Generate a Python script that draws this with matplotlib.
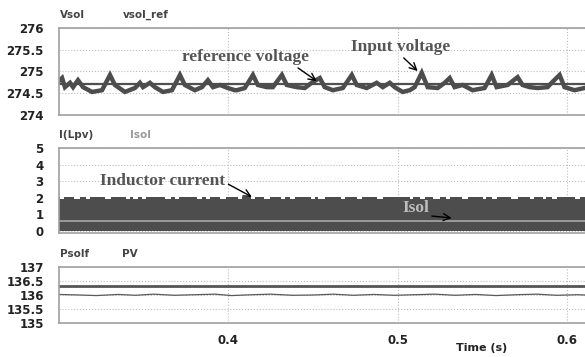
import matplotlib
matplotlib.use("Agg")
import matplotlib.pyplot as plt

# ---- data ----
# time axis (s)
x_ticks = [0.4, 0.5, 0.6]
x_range = (0.3, 0.6106)

# panel 1: PV voltage and its reference
vsol_t = [0.2994, 0.3018, 0.3035, 0.3065, 0.3083, 0.3112, 0.3142, 0.3195, 0.3254,
          0.3301, 0.3330, 0.3389, 0.3448, 0.3478, 0.3496, 0.3537, 0.3566, 0.3614,
          0.3667, 0.3714, 0.3743, 0.3802, 0.3844, 0.3879, 0.3909, 0.3950, 0.3997,
          0.4038, 0.4050, 0.4097, 0.4145, 0.4174, 0.4227, 0.4263, 0.4316, 0.4345,
          0.4404, 0.4451, 0.4499, 0.4540, 0.4569, 0.4617, 0.4676, 0.4729, 0.4758,
          0.4817, 0.4876, 0.4912, 0.4953, 0.4982, 0.5029, 0.5071, 0.5100, 0.5142,
          0.5177, 0.5236, 0.5277, 0.5307, 0.5336, 0.5383, 0.5442, 0.5513, 0.5555,
          0.5584, 0.5649, 0.5708, 0.5737, 0.5779, 0.5826, 0.5885, 0.5914, 0.5956,
          0.5985, 0.6044, 0.6103]
vsol_v = [274.76, 274.85, 274.64, 274.74, 274.64, 274.80, 274.64, 274.53, 274.57,
          274.92, 274.69, 274.53, 274.62, 274.74, 274.64, 274.74, 274.64, 274.53,
          274.57, 274.92, 274.69, 274.57, 274.64, 274.80, 274.64, 274.69, 274.62,
          274.57, 274.57, 274.62, 274.92, 274.69, 274.64, 274.64, 274.92, 274.69,
          274.64, 274.62, 274.76, 274.85, 274.64, 274.57, 274.62, 274.92, 274.69,
          274.62, 274.74, 274.64, 274.74, 274.64, 274.53, 274.57, 274.64, 274.97,
          274.64, 274.62, 274.74, 274.85, 274.64, 274.69, 274.57, 274.62, 274.92,
          274.64, 274.69, 274.87, 274.69, 274.64, 274.62, 274.64, 274.76, 274.92,
          274.64, 274.57, 274.62]
vsol_ref = 274.72
v_ticks = [274, 274.5, 275, 275.5, 276]
v_labels = ["274", "274.5", "275", "275.5", "276"]

# panel 2: inductor current band and Isol
il_top = 2.05
il_bottom = 0.0
il_notch_t = [0.3018, 0.3106, 0.3171, 0.3289, 0.3407, 0.3454, 0.3501, 0.3643, 0.3696,
              0.3832, 0.3879, 0.3968, 0.4068, 0.4145, 0.4227, 0.4322, 0.4381, 0.4499,
              0.4552, 0.4676, 0.4776, 0.4894, 0.5083, 0.5147, 0.5230, 0.5295, 0.5395,
              0.5513, 0.5572, 0.5690, 0.5791, 0.5867, 0.5926, 0.6062]
il_notch_w = [0.0020, 0.0035, 0.0025, 0.0040, 0.0020, 0.0030, 0.0020, 0.0035, 0.0025,
              0.0030, 0.0020, 0.0040, 0.0025, 0.0020, 0.0035, 0.0025, 0.0030, 0.0020,
              0.0040, 0.0025, 0.0030, 0.0035, 0.0020, 0.0030, 0.0040, 0.0025, 0.0035,
              0.0020, 0.0030, 0.0040, 0.0025, 0.0020, 0.0035, 0.0030]
il_notch_depth = 0.11
isol = 0.58
i_ticks = [0, 1, 2, 3, 4, 5]

# panel 3: power
psolf = 136.33
pv_t = [0.300, 0.312, 0.322, 0.335, 0.345, 0.356, 0.368, 0.380, 0.392, 0.402,
        0.414, 0.425, 0.438, 0.450, 0.462, 0.474, 0.486, 0.498, 0.510, 0.522,
        0.534, 0.546, 0.558, 0.570, 0.582, 0.594, 0.606, 0.611]
pv_v = [136.02, 136.00, 135.98, 136.02, 135.99, 136.03, 135.99, 136.01, 136.03, 135.98,
        136.01, 136.03, 135.99, 136.00, 136.03, 135.99, 136.02, 135.99, 136.01, 136.03,
        135.99, 136.02, 135.98, 136.01, 136.03, 135.99, 136.01, 136.00]
p_ticks = [135, 135.5, 136, 136.5, 137]
p_labels = ["135", "135.5", "136", "136.5", "137"]

DARK = "#4d4d4d"
GRID = "#bdbdbd"
SPINE = "#a0a0a0"
SERIF = ["Liberation Serif", "DejaVu Serif"]
NOTE_SIZE = 12.5


def style_axis(ax, ticks, labels, ylim):
    ax.set_xlim(*x_range)
    ax.set_ylim(*ylim)
    ax.set_yticks(ticks)
    ax.set_yticklabels(labels)
    ax.set_xticks(x_ticks)
    ax.tick_params(axis="both", length=0, labelsize=8.5, colors="#222222")
    ax.tick_params(axis="y", pad=11)
    ax.tick_params(axis="x", pad=8)
    for lab in ax.get_yticklabels() + ax.get_xticklabels():
        lab.set_fontweight("bold")
    ax.grid(True, linestyle=":", color=GRID, linewidth=0.8)
    ax.spines["right"].set_visible(False)
    for side in ("top", "left", "bottom"):
        ax.spines[side].set_color(SPINE)
        ax.spines[side].set_linewidth(1.2)
    ax.set_axisbelow(True)


fig = plt.figure(figsize=(5.85, 3.57), dpi=100)

# ---- top panel ----
ax1 = fig.add_axes([0.1009, 0.6779, 0.8991, 0.2437])
ax1.axhline(vsol_ref, color="#505050", linewidth=1.6)
ax1.plot(vsol_t, vsol_v, color=DARK, linewidth=3.2, solid_joinstyle="miter")
style_axis(ax1, v_ticks, v_labels, (274, 276))
ax1.tick_params(axis="x", labelbottom=False)
ax1.annotate("reference voltage", xy=(0.4522, 274.78), xytext=(0.4103, 275.33),
             ha="center", va="center", fontsize=NOTE_SIZE, fontweight="bold",
             family=SERIF, color="#555555",
             arrowprops=dict(arrowstyle="->", color="black", lw=1.0,
                             shrinkA=0, shrinkB=0, relpos=(0.88, 0.0)))
ax1.annotate("Input voltage", xy=(0.5118, 275.01), xytext=(0.5018, 275.56),
             ha="center", va="center", fontsize=NOTE_SIZE, fontweight="bold",
             family=SERIF, color="#555555",
             arrowprops=dict(arrowstyle="->", color="black", lw=1.0,
                             shrinkA=0, shrinkB=0, relpos=(0.5, 0.0)))

# ---- middle panel ----
ax2 = fig.add_axes([0.1009, 0.3473, 0.8991, 0.2381])
ax2.fill_between(list(x_range), il_bottom, il_top, color=DARK, linewidth=0)
ax2.bar(il_notch_t, il_notch_depth, width=il_notch_w, bottom=il_top - il_notch_depth,
        color="white", linewidth=0)
ax2.axhline(isol, color="#a8a8a8", linewidth=1.2)
style_axis(ax2, i_ticks, [str(v) for v in i_ticks], (-0.14, 5))
ax2.tick_params(axis="x", labelbottom=False)
ax2.annotate("Inductor current", xy=(0.4139, 2.04), xytext=(0.3614, 3.0),
             ha="center", va="center", fontsize=NOTE_SIZE, fontweight="bold",
             family=SERIF, color="#555555",
             arrowprops=dict(arrowstyle="->", color="black", lw=1.0,
                             shrinkA=0, shrinkB=0, relpos=(1.0, 0.4)))
ax2.annotate("Isol", xy=(0.5319, 0.77), xytext=(0.5106, 1.37),
             ha="center", va="center", fontsize=NOTE_SIZE, fontweight="bold",
             family=SERIF, color="#bdbdbd",
             arrowprops=dict(arrowstyle="->", color="black", lw=1.0,
                             shrinkA=0, shrinkB=0, relpos=(1.1, 0.0)))

# ---- bottom panel ----
ax3 = fig.add_axes([0.1009, 0.0952, 0.8991, 0.1569])
ax3.axhline(psolf, color="#555555", linewidth=2.0)
ax3.plot(pv_t, pv_v, color="#5a5a5a", linewidth=0.9)
style_axis(ax3, p_ticks, p_labels, (135, 137))
ax3.text(0.5496, -0.45, "Time (s)", transform=ax3.get_xaxis_transform(),
         ha="center", va="center", fontsize=8, fontweight="bold", color="#222222")

# series names above each panel
names = [
    ("Vsol", 0.1026, 0.958, "#444444"),
    ("vsol_ref", 0.2103, 0.958, "#444444"),
    ("I(Lpv)", 0.1009, 0.622, "#444444"),
    ("Isol", 0.2222, 0.622, "#9a9a9a"),
    ("Psolf", 0.1026, 0.289, "#444444"),
    ("PV", 0.2085, 0.289, "#444444"),
]
for txt, fx, fy, col in names:
    fig.text(fx, fy, txt, ha="left", va="center", fontsize=7.5,
             fontweight="bold", color=col)

fig.savefig("out.png", dpi=100)
